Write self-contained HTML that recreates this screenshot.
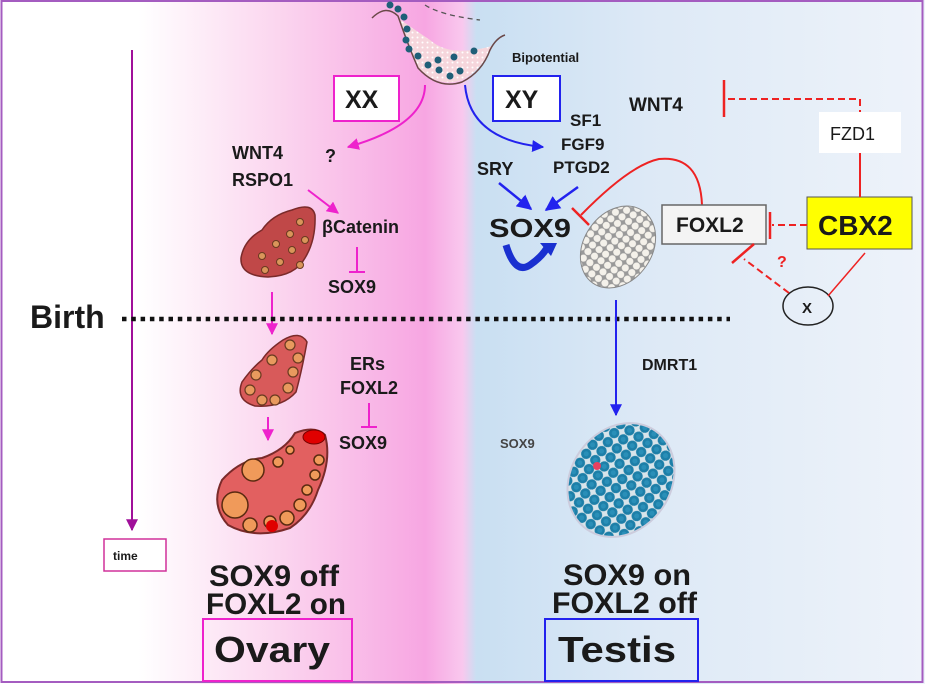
<!DOCTYPE html>
<html><head><meta charset="utf-8"><style>
body{margin:0;width:925px;height:684px;overflow:hidden;background:#fff}
svg{display:block}
text{font-family:"Liberation Sans",sans-serif;font-weight:bold;fill:#1a1a1a}
</style></head><body>
<svg width="925" height="684" viewBox="0 0 925 684" xmlns="http://www.w3.org/2000/svg">
<defs>
<linearGradient id="bg" x1="0" x2="1" y1="0" y2="0">
<stop offset="0" stop-color="#fff"/>
<stop offset="0.15" stop-color="#fff"/>
<stop offset="0.3" stop-color="#fbd6ef"/>
<stop offset="0.46" stop-color="#f7a6e2"/>
<stop offset="0.5" stop-color="#f9c8ee"/>
<stop offset="0.515" stop-color="#c9dff2"/>
<stop offset="0.7" stop-color="#dde9f6"/>
<stop offset="1" stop-color="#eef3fa"/>
</linearGradient>
<marker id="am" viewBox="0 0 10 10" refX="9" refY="5" markerWidth="6" markerHeight="6" orient="auto"><path d="M0,0L10,5L0,10z" fill="#ee22cc"/></marker>
<marker id="ab" viewBox="0 0 10 10" refX="9" refY="5" markerWidth="6" markerHeight="6" orient="auto"><path d="M0,0L10,5L0,10z" fill="#2222ee"/></marker>
<marker id="ap" viewBox="0 0 10 10" refX="9" refY="5" markerWidth="6" markerHeight="6" orient="auto"><path d="M0,0L10,5L0,10z" fill="#a0109a"/></marker>
<pattern id="cells" width="8" height="8" patternUnits="userSpaceOnUse"><rect width="8" height="8" fill="#999"/><circle cx="4" cy="4" r="3.6" fill="#f4f1ea"/></pattern>
<pattern id="bcells" width="11" height="11" patternUnits="userSpaceOnUse"><rect width="11" height="11" fill="#d8e4ea"/><circle cx="5.5" cy="5.5" r="5.2" fill="#1d7fa8"/><circle cx="5.5" cy="5.5" r="2.5" fill="#2a8fb8"/></pattern>
<pattern id="dots" width="5" height="5" patternUnits="userSpaceOnUse"><rect width="5" height="5" fill="#f6d6dc"/><circle cx="2.5" cy="2.5" r="1" fill="#fff"/></pattern>
</defs>
<rect x="0" y="0" width="925" height="684" fill="url(#bg)"/>
<rect x="1.5" y="1" width="921" height="681" fill="none" stroke="#a45cc0" stroke-width="2"/>

<!-- gonad -->
<path d="M398,18 Q410,50 420,70 Q440,88 462,80 Q482,70 492,46 Q450,58 430,40 Q412,28 398,18z" fill="url(#dots)"/>
<path d="M372,18 Q386,4 398,16 Q408,45 418,68 Q438,90 462,82 Q482,72 490,50 Q496,38 505,35" fill="none" stroke="#6a4848" stroke-width="1.5"/>
<g fill="#1f5f78">
<circle cx="390" cy="5" r="3.5"/><circle cx="398" cy="9" r="3.5"/><circle cx="404" cy="17" r="3.5"/><circle cx="407" cy="29" r="3.5"/><circle cx="406" cy="40" r="3.5"/><circle cx="409" cy="49" r="3.5"/><circle cx="418" cy="56" r="3.5"/><circle cx="428" cy="65" r="3.5"/><circle cx="438" cy="60" r="3.5"/><circle cx="439" cy="70" r="3.5"/><circle cx="450" cy="76" r="3.5"/><circle cx="454" cy="57" r="3.5"/><circle cx="460" cy="71" r="3.5"/><circle cx="474" cy="51" r="3.5"/>
</g>
<path d="M425,5 Q440,15 480,20" fill="none" stroke="#555" stroke-width="1.3" stroke-dasharray="5,4"/>
<text x="512" y="62" font-size="13" fill="#333">Bipotential</text>

<!-- time -->
<line x1="132" y1="50" x2="132" y2="530" stroke="#a0109a" stroke-width="2" marker-end="url(#ap)"/>
<rect x="104" y="539" width="62" height="32" fill="#fff" stroke="#d0309a" stroke-width="1.5"/>
<text x="113" y="560" font-size="12">time</text>

<!-- XX / XY -->
<rect x="334" y="76" width="65" height="45" fill="#fff" stroke="#ee22cc" stroke-width="2"/>
<text x="345" y="108" font-size="25">XX</text>
<rect x="493" y="76" width="67" height="45" fill="#fff" stroke="#2222ee" stroke-width="2"/>
<text x="505" y="108" font-size="25">XY</text>
<path d="M425,85 Q425,125 348,147" fill="none" stroke="#ee22cc" stroke-width="2" marker-end="url(#am)"/>
<path d="M465,85 Q470,140 543,147" fill="none" stroke="#2222ee" stroke-width="2" marker-end="url(#ab)"/>

<!-- XX side -->
<text x="232" y="159" font-size="18">WNT4</text>
<text x="325" y="162" font-size="18">?</text>
<text x="232" y="186" font-size="18">RSPO1</text>
<line x1="308" y1="190" x2="338" y2="213" stroke="#ee22cc" stroke-width="2" marker-end="url(#am)"/>
<text x="322" y="233" font-size="18">βCatenin</text>
<line x1="357" y1="247" x2="357" y2="272" stroke="#ee22cc" stroke-width="2"/>
<line x1="349" y1="272" x2="365" y2="272" stroke="#ee22cc" stroke-width="2"/>
<text x="328" y="293" font-size="18">SOX9</text>

<!-- ovary 1 -->
<path d="M292,210 Q312,202 315,215 Q316,240 305,258 Q295,276 268,277 Q240,276 241,258 Q244,240 262,230 Q272,215 292,210z" fill="#c04848" stroke="#7a2a2a" stroke-width="1.5"/>
<g fill="#d9955a" stroke="#6a3a20" stroke-width="1"><circle cx="300" cy="222" r="3.5"/><circle cx="290" cy="234" r="3.5"/><circle cx="276" cy="244" r="3.5"/><circle cx="292" cy="250" r="3.5"/><circle cx="262" cy="256" r="3.5"/><circle cx="280" cy="262" r="3.5"/><circle cx="265" cy="270" r="3.5"/><circle cx="305" cy="240" r="3.5"/><circle cx="300" cy="265" r="3.5"/></g>
<line x1="272" y1="292" x2="272" y2="334" stroke="#ee22cc" stroke-width="2" marker-end="url(#am)"/>
<!-- ovary 2 -->
<path d="M283,340 Q300,330 307,342 Q302,370 296,392 Q282,408 255,406 Q235,400 242,382 Q252,368 262,360 Q268,350 283,340z" fill="#d85a5a" stroke="#7a2a2a" stroke-width="1.5"/>
<g fill="#e89a5e" stroke="#6a3a20" stroke-width="1.2"><circle cx="290" cy="345" r="5"/><circle cx="298" cy="358" r="5"/><circle cx="293" cy="372" r="5"/><circle cx="288" cy="388" r="5"/><circle cx="275" cy="400" r="5"/><circle cx="262" cy="400" r="5"/><circle cx="250" cy="390" r="5"/><circle cx="256" cy="375" r="5"/><circle cx="272" cy="360" r="5"/></g>
<line x1="268" y1="417" x2="268" y2="440" stroke="#ee22cc" stroke-width="2" marker-end="url(#am)"/>
<!-- ovary 3 -->
<path d="M295,433 Q315,425 325,435 Q332,460 318,490 Q310,515 290,528 Q255,540 228,525 Q210,505 222,480 Q240,460 262,458 Q285,450 295,433z" fill="#e26060" stroke="#7a2a2a" stroke-width="2"/>
<g fill="#f09a5a" stroke="#5a2a10" stroke-width="1.5"><circle cx="253" cy="470" r="11"/><circle cx="235" cy="505" r="13"/><circle cx="250" cy="525" r="7"/><circle cx="270" cy="522" r="6"/><circle cx="287" cy="518" r="7"/><circle cx="300" cy="505" r="6"/><circle cx="307" cy="490" r="5"/><circle cx="315" cy="475" r="5"/><circle cx="319" cy="460" r="5"/><circle cx="278" cy="462" r="5"/><circle cx="290" cy="450" r="4"/></g>
<ellipse cx="314" cy="437" rx="11" ry="7" fill="#e00000" stroke="#700" stroke-width="1"/>
<circle cx="272" cy="526" r="6" fill="#e00000"/>
<text x="350" y="370" font-size="18">ERs</text>
<text x="340" y="394" font-size="18">FOXL2</text>
<line x1="369" y1="403" x2="369" y2="427" stroke="#ee22cc" stroke-width="2"/>
<line x1="361" y1="427" x2="377" y2="427" stroke="#ee22cc" stroke-width="2"/>
<text x="339" y="449" font-size="18">SOX9</text>

<!-- XY side -->
<text x="570" y="126" font-size="17">SF1</text>
<text x="561" y="150" font-size="17">FGF9</text>
<text x="477" y="175" font-size="18">SRY</text>
<text x="553" y="173" font-size="17">PTGD2</text>
<line x1="499" y1="183" x2="531" y2="209" stroke="#2222ee" stroke-width="2.5" marker-end="url(#ab)"/>
<line x1="578" y1="187" x2="546" y2="210" stroke="#2222ee" stroke-width="2.5" marker-end="url(#ab)"/>
<text x="489" y="237" font-size="26" textLength="82" lengthAdjust="spacingAndGlyphs">SOX9</text>
<path d="M506,245 Q515,275 530,265 Q543,256 548,246" fill="none" stroke="#1a30d0" stroke-width="7"/>
<path d="M540,243 L557,243 L551,256z" fill="#1a30d0"/>
<ellipse cx="618" cy="247" rx="34" ry="44" transform="rotate(35 618 247)" fill="url(#cells)" stroke="#888"/>
<path d="M702,205 Q700,155 659,159 Q630,165 581,215" fill="none" stroke="#ee2222" stroke-width="2"/>
<line x1="572" y1="208" x2="589" y2="225" stroke="#ee2222" stroke-width="2.5"/>
<rect x="662" y="205" width="104" height="39" fill="#f4f4f4" stroke="#666" stroke-width="1.5"/>
<text x="676" y="232" font-size="21">FOXL2</text>
<rect x="807" y="197" width="105" height="52" fill="#ffff00" stroke="#555" stroke-width="1"/>
<text x="818" y="235" font-size="28">CBX2</text>
<line x1="807" y1="225" x2="772" y2="225" stroke="#ee2222" stroke-width="2" stroke-dasharray="7,4"/>
<line x1="770" y1="212" x2="770" y2="239" stroke="#ee2222" stroke-width="2.5"/>
<text x="629" y="111" font-size="19">WNT4</text>
<line x1="724" y1="80" x2="724" y2="117" stroke="#ee2222" stroke-width="2.5"/>
<path d="M728,99 L860,99 L860,112" fill="none" stroke="#ee2222" stroke-width="2" stroke-dasharray="7,4"/>
<rect x="819" y="112" width="82" height="41" fill="#fff"/>
<text x="830" y="140" font-size="18" fill="#555" style="font-weight:normal">FZD1</text>
<line x1="860" y1="153" x2="860" y2="197" stroke="#ee2222" stroke-width="2"/>
<ellipse cx="808" cy="306" rx="25" ry="19" fill="none" stroke="#222" stroke-width="1.5"/>
<text x="802" y="313" font-size="15">X</text>
<line x1="865" y1="253" x2="828" y2="296" stroke="#ee2222" stroke-width="1.5"/>
<line x1="789" y1="293" x2="744" y2="259" stroke="#ee2222" stroke-width="2" stroke-dasharray="7,4"/>
<line x1="732" y1="263" x2="754" y2="244" stroke="#ee2222" stroke-width="2.5"/>
<text x="777" y="267" font-size="16" style="fill:#ee2222">?</text>

<!-- birth -->
<text x="30" y="328" font-size="32">Birth</text>
<line x1="122" y1="319" x2="730" y2="319" stroke="#111" stroke-width="4.5" stroke-dasharray="4.5,4.8"/>

<line x1="616" y1="300" x2="616" y2="415" stroke="#2222ee" stroke-width="2" marker-end="url(#ab)"/>
<text x="642" y="370" font-size="16">DMRT1</text>
<text x="500" y="448" font-size="13" style="fill:#444">SOX9</text>
<ellipse cx="621" cy="480" rx="50" ry="60" transform="rotate(35 621 480)" fill="url(#bcells)" stroke="#ccd" stroke-width="2"/>
<circle cx="597" cy="466" r="4" fill="#e84060"/>

<!-- bottom -->
<text x="209" y="586" font-size="30" textLength="130" lengthAdjust="spacingAndGlyphs">SOX9 off</text>
<text x="206" y="614" font-size="30" textLength="140" lengthAdjust="spacingAndGlyphs">FOXL2 on</text>
<rect x="203" y="619" width="149" height="62" fill="none" stroke="#ee22cc" stroke-width="2"/>
<text x="214" y="662" font-size="36" textLength="116" lengthAdjust="spacingAndGlyphs">Ovary</text>
<text x="563" y="585" font-size="30" textLength="128" lengthAdjust="spacingAndGlyphs">SOX9 on</text>
<text x="552" y="613" font-size="30" textLength="145" lengthAdjust="spacingAndGlyphs">FOXL2 off</text>
<rect x="545" y="619" width="153" height="62" fill="none" stroke="#2222ee" stroke-width="2"/>
<text x="558" y="662" font-size="36" textLength="118" lengthAdjust="spacingAndGlyphs">Testis</text>
</svg>
</body></html>
